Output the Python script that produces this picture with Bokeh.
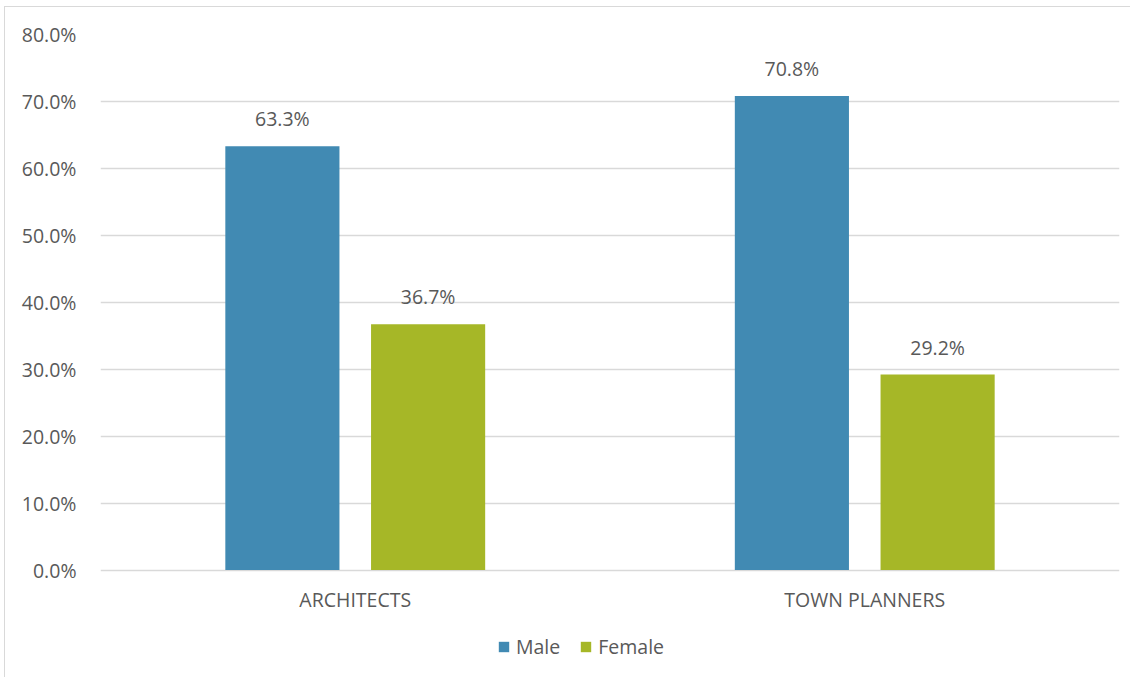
from bokeh.plotting import figure
from bokeh.models import ColumnDataSource, FactorRange, Range1d, LabelSet, PrintfTickFormatter, FixedTicker, Legend, LegendItem
from bokeh.core.properties import value
from bokeh.transform import dodge
from bokeh.embed import file_html
from bokeh.resources import INLINE

categories = ["ARCHITECTS", "TOWN PLANNERS"]
male = [63.3, 70.8]
female = [36.7, 29.2]
series_names = ["Male", "Female"]
colors = ["#418AB3", "#A6B727"]
y_ticks = [0, 10, 20, 30, 40, 50, 60, 70, 80]

FONT = "Open Sans"
TXT = "#595959"
FS = "19.5px"

src = ColumnDataSource(dict(
    cat=categories,
    male=male,
    female=female,
    male_lbl=[f"{v:.1f}%" for v in male],
    female_lbl=[f"{v:.1f}%" for v in female],
))

# y range extends below zero so the category labels and legend sit inside the frame
p = figure(x_range=FactorRange(*categories), y_range=Range1d(-16.2, 80),
           width=1126, height=671, output_backend="svg", toolbar_location=None,
           min_border_left=95, min_border_right=12, min_border_top=27, min_border_bottom=0)
p.styles = {"border-left": "1px solid #d9d9d9", "border-top": "1px solid #d9d9d9",
            "margin-left": "4px", "margin-top": "6px"}

r1 = p.vbar(x=dodge("cat", -0.143, range=p.x_range), top="male", width=0.224, source=src,
            color=colors[0], line_color=None)
r2 = p.vbar(x=dodge("cat", 0.143, range=p.x_range), top="female", width=0.224, source=src,
            color=colors[1], line_color=None)

for col, off in (("male", -0.143), ("female", 0.143)):
    p.add_layout(LabelSet(x=dodge("cat", off, range=p.x_range), y=col, text=col + "_lbl", source=src,
                          text_align="center", text_baseline="bottom", y_offset=14,
                          text_font=value(FONT), text_font_size=value(FS), text_color=value(TXT)))

p.outline_line_color = None
p.xgrid.grid_line_color = None
p.ygrid.grid_line_color = "#d9d9d9"
p.ygrid.grid_line_width = 1.5

p.yaxis.ticker = FixedTicker(ticks=y_ticks)
p.yaxis.formatter = PrintfTickFormatter(format="%.1f%%")
for ax in (p.xaxis, p.yaxis):
    ax.axis_line_color = None
    ax.major_tick_line_color = None
    ax.minor_tick_line_color = None
    ax.major_tick_out = 0
    ax.major_tick_in = 0
    ax.major_label_text_font = FONT
    ax.major_label_text_font_size = FS
    ax.major_label_text_color = TXT
p.yaxis.major_label_standoff = 24
p.xaxis.major_label_standoff = 16
p.xaxis.fixed_location = 0

legend = Legend(items=[LegendItem(label=series_names[0], renderers=[r1]),
                       LegendItem(label=series_names[1], renderers=[r2])],
                orientation="horizontal", location=(397, 18),
                glyph_width=13, glyph_height=13, label_standoff=6, spacing=19,
                label_text_font=FONT, label_text_font_size=FS, label_text_color=TXT,
                border_line_color=None, background_fill_alpha=0, padding=0, margin=0)
p.add_layout(legend, "center")

open("out.html", "w").write(file_html(p, INLINE))
